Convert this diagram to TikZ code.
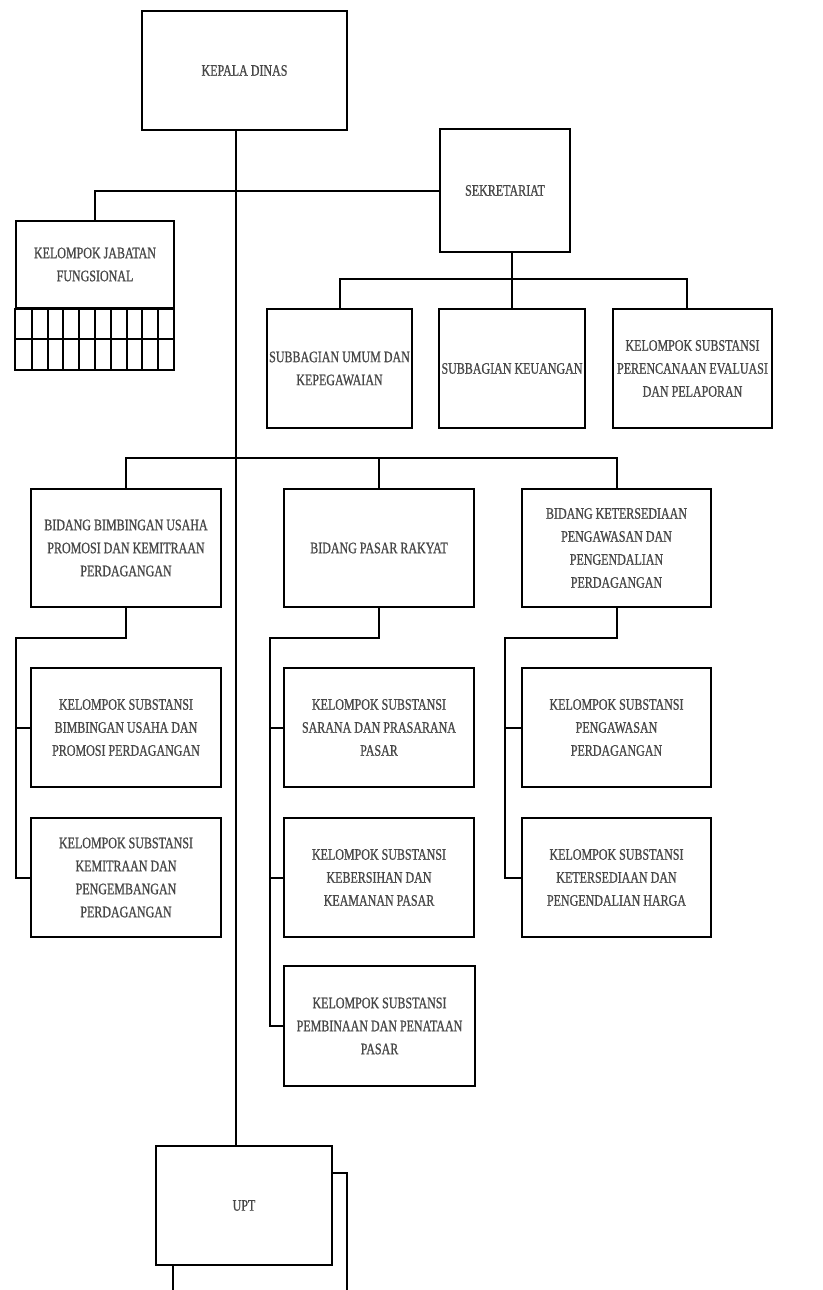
\documentclass[tikz,border=0pt]{standalone}
\usepackage{fontspec}
\newfontfamily\orgfont[FakeStretch=0.75,FakeBold=0.8]{Liberation Serif}
\tikzset{
  unit/.style={draw,line width=2pt,fill=white,inner sep=0pt,align=center,text=black!72,
    minimum width=190,minimum height=119,font=\orgfont\fontsize{16}{23}\selectfont},
  line/.style={line width=2pt}
}

\begin{document}
\begin{tikzpicture}[x=1pt,y=-1pt]
\useasboundingbox (0,0) rectangle (822,1290);
\clip (0,0) rectangle (822,1290);
\coordinate (spine) at (236,0);
\coordinate (sbar) at (0,279);
\coordinate (bbar) at (0,458);
\coordinate (bus1) at (16,638);
\coordinate (bus2) at (270,638);
\coordinate (bus3) at (505,638);
% top
\node[unit,minimum width=205] (kadis) at (244.5,70.5) {KEPALA DINAS};
\node[unit,minimum width=130,minimum height=123] (sekre) at (505,190.5) {SEKRETARIAT};
\node[unit,minimum width=158,minimum height=87] (jafung) at (95,264.5) {KELOMPOK JABATAN\\FUNGSIONAL};
\draw[line] (jafung.south west) rectangle (174,370);
\draw[line] (16,339) -- (174,339);
\foreach \i in {1,...,9}
  \draw[line] ({16+\i*15.8},308) -- ({16+\i*15.8},370);
% sekretariat
\node[unit,minimum width=145] (umum) at (339.5,368.5) {SUBBAGIAN UMUM DAN\\KEPEGAWAIAN};
\node[unit,minimum width=146] (keu) at (512,368.5) {SUBBAGIAN KEUANGAN};
\node[unit,minimum width=159] (renev) at (692.5,368.5) {KELOMPOK SUBSTANSI\\PERENCANAAN EVALUASI\\DAN PELAPORAN};
\coordinate (rdrop) at ([xshift=-6pt]renev.north);
% bidang
\node[unit,minimum height=118] (bimb) at (126,548) {BIDANG BIMBINGAN USAHA\\PROMOSI DAN KEMITRAAN\\PERDAGANGAN};
\node[unit,minimum height=118] (pasar) at (379,548) {BIDANG PASAR RAKYAT};
\node[unit,minimum width=189,minimum height=118] (sedia) at (616.5,548) {BIDANG KETERSEDIAAN\\PENGAWASAN DAN\\PENGENDALIAN\\PERDAGANGAN};
\node[unit] (bbu) at (126,727.5) {KELOMPOK SUBSTANSI\\BIMBINGAN USAHA DAN\\PROMOSI PERDAGANGAN};
\node[unit] (kem) at (126,877.5) {KELOMPOK SUBSTANSI\\KEMITRAAN DAN\\PENGEMBANGAN\\PERDAGANGAN};
\node[unit] (spp) at (379,727.5) {KELOMPOK SUBSTANSI\\SARANA DAN PRASARANA\\PASAR};
\node[unit] (kkp) at (379,877.5) {KELOMPOK SUBSTANSI\\KEBERSIHAN DAN\\KEAMANAN PASAR};
\node[unit,minimum width=191,minimum height=120] (ppp) at (379.5,1026) {KELOMPOK SUBSTANSI\\PEMBINAAN DAN PENATAAN\\PASAR};
\node[unit,minimum width=189] (pwp) at (616.5,727.5) {KELOMPOK SUBSTANSI\\PENGAWASAN\\PERDAGANGAN};
\node[unit,minimum width=189] (kph) at (616.5,877.5) {KELOMPOK SUBSTANSI\\KETERSEDIAAN DAN\\PENGENDALIAN HARGA};
% upt
\draw[line,fill=white] (173,1173) rectangle (347,1300);
\node[unit,minimum width=176] (upt) at (244,1205.5) {UPT};
% lines
\draw[line] (kadis.south -| spine) -- (upt.north -| spine);
\draw[line] (jafung.north) |- (sekre.west);
\draw[line] (sekre.south -| keu.north) -- (keu.north);
\draw[line] (umum.north) |- (sbar -| rdrop) -- (rdrop);
\draw[line] (bimb.north) |- (bbar -| sedia.north) -- (sedia.north);
\draw[line] (pasar.north) -- (pasar.north |- bbar);
\draw[line] (bimb.south) |- (bus1) |- (kem.west);
\draw[line] (bus1 |- bbu.west) -- (bbu.west);
\draw[line] (pasar.south) |- (bus2) |- (ppp.west);
\draw[line] (bus2 |- spp.west) -- (spp.west);
\draw[line] (bus2 |- kkp.west) -- (kkp.west);
\draw[line] (sedia.south) |- (bus3) |- (kph.west);
\draw[line] (bus3 |- pwp.west) -- (pwp.west);
\end{tikzpicture}
\end{document}
